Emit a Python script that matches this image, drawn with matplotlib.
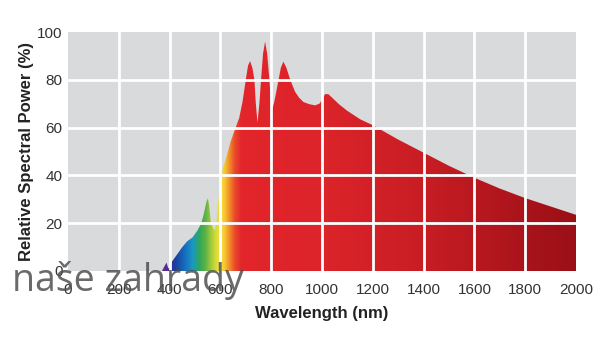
import numpy as np
import matplotlib.pyplot as plt
from matplotlib.colors import to_rgb

# spectrum (wavelength in nm, relative power in %)
wavelength = [370, 380, 388, 395, 400, 410, 430, 450, 470, 490, 510, 525, 535,
              545, 551, 556, 562, 571, 579, 585, 591, 596, 600, 610, 622, 640,
              660, 674, 687, 700, 709, 717, 726, 734, 739, 746, 754, 760, 768,
              776, 784, 793, 799, 805, 812, 820, 829, 838, 848, 860, 875, 894,
              910, 927, 950, 973, 990, 1002, 1012, 1025, 1040, 1070, 1100,
              1150, 1200, 1300, 1400, 1500, 1600, 1700, 1800, 1900, 2000]
power = [0, 2, 3.5, 1, 1.5, 4, 7, 10, 12.5, 14, 17, 20, 24,
         29, 30.5, 27, 21, 18, 17, 21, 28, 33, 38, 43, 47, 54,
         60, 64, 70.7, 80, 86, 87.8, 85, 80, 70.7, 62, 70.7, 80, 91,
         96, 91, 80, 70.7, 68, 70.7, 75, 80, 85, 87.6, 85, 80, 75,
         72.5, 70.7, 69.8, 69.3, 70, 72, 74, 74, 72.5, 69.5, 67,
         63.5, 61, 55, 49.5, 44, 39, 34.5, 30.5, 27, 23.5]

x_ticks = [0, 200, 400, 600, 800, 1000, 1200, 1400, 1600, 1800, 2000]
y_ticks = [0, 20, 40, 60, 80, 100]

# colour stops for the fill (wavelength -> colour)
stops = [(370, '#6a2c8e'), (400, '#3b2f8f'), (420, '#1c3f9c'), (460, '#1570bf'),
         (490, '#1b98c4'), (515, '#2fa65a'), (540, '#5cb446'), (560, '#9cc83c'),
         (580, '#d6dc36'), (600, '#f6e23c'), (615, '#f8c832'), (635, '#f28a2a'),
         (655, '#ea4a2b'), (680, '#e2262b'), (1000, '#dc242a'), (1400, '#c81d24'),
         (2000, '#9a0f16')]

plt.rcParams['font.family'] = ['Liberation Sans', 'DejaVu Sans']

fig = plt.figure(figsize=(6, 3.39), dpi=100)
ax = fig.add_axes([0.1133, 0.2006, 0.8467, 0.7050])
ax.set_facecolor('#d9dadc')

# horizontal colour gradient clipped to the spectrum shape
xs = np.linspace(0, 2000, 1200)
sw = [s[0] for s in stops]
sc = np.array([to_rgb(s[1]) for s in stops])
rgb = np.stack([np.interp(xs, sw, sc[:, k]) for k in range(3)], axis=-1)
img = ax.imshow(rgb[np.newaxis, :, :], extent=[0, 2000, 0, 100], aspect='auto',
                origin='lower', zorder=1, interpolation='bilinear')
poly = ax.fill_between(wavelength, power, 0, color='none', lw=0)
clip = poly.get_paths()[0]
img.set_clip_path(clip, ax.transData)

ax.set_xlim(0, 2000)
ax.set_ylim(0, 100)

# white grid over the fill
for xv in x_ticks[1:-1]:
    ax.axvline(xv, color='white', lw=2, zorder=3)
for yv in y_ticks[1:-1]:
    ax.axhline(yv, color='white', lw=2, zorder=3)

for sp in ax.spines.values():
    sp.set_visible(False)

ax.set_xticks(x_ticks)
ax.set_yticks(y_ticks)
ax.tick_params(length=0, labelsize=11, colors='#333333')
ax.tick_params(axis='x', pad=9)
ax.tick_params(axis='y', pad=4)
ax.set_xlabel('Wavelength (nm)', fontsize=12, fontweight='bold', color='#222222', labelpad=6)
ax.set_ylabel('Relative Spectral Power (%)', fontsize=12, fontweight='bold', color='#222222', labelpad=2)

# watermark
fig.text(0.02, 0.142, 'naše zahrady', fontsize=27, color='#505050', alpha=0.85,
         family=['Open Sans', 'DejaVu Sans'], zorder=10)

fig.savefig('out.png', dpi=100)
